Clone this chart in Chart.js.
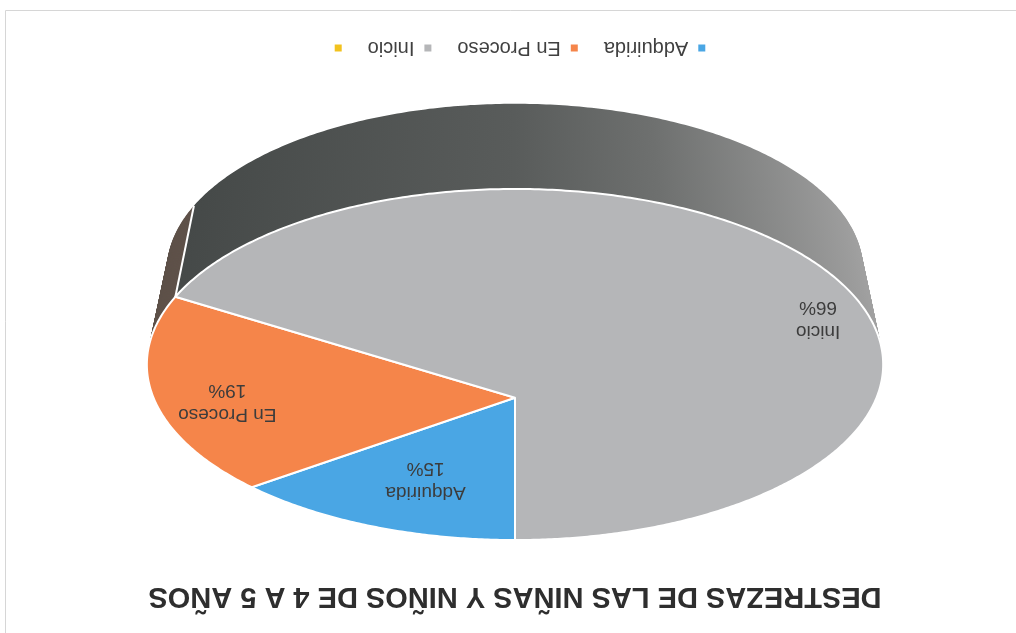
<!DOCTYPE html>
<html><head><meta charset="utf-8">
<script src="https://cdn.jsdelivr.net/npm/chart.js@4.4.0/dist/chart.umd.min.js"></script>
<style>
html,body{margin:0;padding:0;background:#fff;}
#wrap{width:1016px;height:633px;transform:rotate(180deg);}
canvas{display:block;}
</style></head><body>
<div id="wrap"><canvas id="c" width="1016" height="633"></canvas></div>
<script>
const chartTitle = 'DESTREZAS DE LAS NIÑAS Y NIÑOS DE 4 A 5 AÑOS';
const categories = ['Adquirida', 'En Proceso', 'Inicio', ''];
const values = [15, 19, 66, 0];
const percentLabels = ['15%', '19%', '66%', ''];
const topColors = ['#4AA6E4', '#F5854A', '#B5B6B8', '#F2C21E'];

const pie3d = {
  id: 'pie3d',
  beforeDraw(chart) {
    const ctx = chart.ctx;
    ctx.save();
    ctx.fillStyle = '#ffffff';
    ctx.fillRect(0, 0, chart.width, chart.height);
    ctx.strokeStyle = '#d6d6d6';
    ctx.lineWidth = 1;
    ctx.beginPath();
    ctx.moveTo(chart.width - 5.5, 0); ctx.lineTo(chart.width - 5.5, chart.height - 10.5);
    ctx.lineTo(0, chart.height - 10.5);
    ctx.stroke();
    ctx.restore();
  },
  beforeDatasetsDraw(chart, args, o) {
    const arcs = chart.getDatasetMeta(0).data;
    if (!arcs.length) return false;
    const ctx = chart.ctx;
    const R = arcs[0].outerRadius;
    const cx = arcs[0].x, cy = arcs[0].y + o.shiftY * R;
    const A = o.rx * R, B = o.ry * R, k = o.persp;
    const proj = (th, r) => {
      const u = r * Math.cos(th), v = -r * Math.sin(th), w = 1 + k * v;
      return [cx + A * u / w, cy - B * v / w, v];
    };
    const slicePath = (a0, a1) => {
      ctx.beginPath();
      const c = proj(0, 0);
      ctx.moveTo(c[0], c[1]);
      const n = Math.max(2, Math.ceil((a1 - a0) / 0.01));
      for (let i = 0; i <= n; i++) {
        const p = proj(a0 + (a1 - a0) * i / n, 1);
        ctx.lineTo(p[0], p[1]);
      }
      ctx.closePath();
    };
    const Vx = cx, Vy = cy + o.vanish * R;
    const t = o.depth;
    const grad = ctx.createLinearGradient(cx - A, 0, cx + A, 0);
    grad.addColorStop(0, '#a0a0a0');
    grad.addColorStop(0.3, '#6e706f');
    grad.addColorStop(0.5, '#595c5b');
    grad.addColorStop(1, '#444847');
    const sideFill = [ '#2f6f9a', '#5e5149', grad, '#8a6d10' ];
    const layers = 90;
    for (let i = layers; i >= 1; i--) {
      const s = 1 - t * i / layers;
      ctx.save();
      ctx.translate(Vx, Vy); ctx.scale(s, s); ctx.translate(-Vx, -Vy);
      arcs.forEach((el, j) => {
        if (el.circumference <= 0) return;
        slicePath(el.startAngle, el.endAngle);
        ctx.fillStyle = sideFill[j];
        ctx.fill();
      });
      ctx.restore();
    }
    ctx.save();
    ctx.strokeStyle = '#ffffff';
    ctx.lineWidth = 2;
    arcs.forEach((el) => {
      if (el.circumference <= 0) return;
      const p = proj(el.startAngle, 1);
      if (p[2] < 0) {
        const s = 1 - t;
        ctx.beginPath();
        ctx.moveTo(p[0], p[1]);
        ctx.lineTo(Vx + (p[0] - Vx) * s, Vy + (p[1] - Vy) * s);
        ctx.stroke();
      }
    });
    ctx.restore();
    ctx.save();
    arcs.forEach((el, j) => {
      if (el.circumference <= 0) return;
      slicePath(el.startAngle, el.endAngle);
      ctx.fillStyle = topColors[j];
      ctx.fill();
      ctx.strokeStyle = '#ffffff';
      ctx.lineWidth = 2;
      ctx.lineJoin = 'round';
      ctx.stroke();
    });
    ctx.restore();
    ctx.save();
    ctx.font = '19px "Liberation Sans", Arial, sans-serif';
    ctx.fillStyle = '#3c3c3c';
    ctx.textAlign = 'center';
    ctx.textBaseline = 'middle';
    arcs.forEach((el, j) => {
      if (el.circumference <= 0) return;
      const mid = (el.startAngle + el.endAngle) / 2;
      const p = proj(mid, o.labelR[j]);
      ctx.fillText(categories[j], p[0], p[1] - 12);
      ctx.fillText(percentLabels[j], p[0], p[1] + 12);
    });
    ctx.restore();
    return false;
  }
};

new Chart(document.getElementById('c'), {
  type: 'pie',
  data: {
    labels: categories,
    datasets: [{ data: values, backgroundColor: topColors, borderWidth: 0 }]
  },
  plugins: [pie3d],
  options: {
    responsive: false,
    animation: false,
    events: [],
    layout: { padding: { left: 0, right: 14, top: 0, bottom: 28 } },
    plugins: {
      title: {
        display: true,
        text: chartTitle,
        color: '#2e2e2e',
        font: { family: '"Liberation Sans", Arial, sans-serif', size: 29, weight: 'bold' },
        padding: { top: 20, bottom: 16 }
      },
      legend: {
        position: 'bottom',
        labels: {
          boxWidth: 7,
          boxHeight: 7,
          padding: 26,
          color: '#404040',
          font: { family: '"Liberation Sans", Arial, sans-serif', size: 20 }
        }
      },
      tooltip: { enabled: false },
      pie3d: {
        shiftY: -0.312,
        rx: 1.512,
        ry: 0.708,
        persp: 0.189,
        vanish: 7.40,
        depth: 0.0546,
        labelR: [0.6, 0.8, 0.88, 0.5]
      }
    }
  }
});
</script>
</body></html>
